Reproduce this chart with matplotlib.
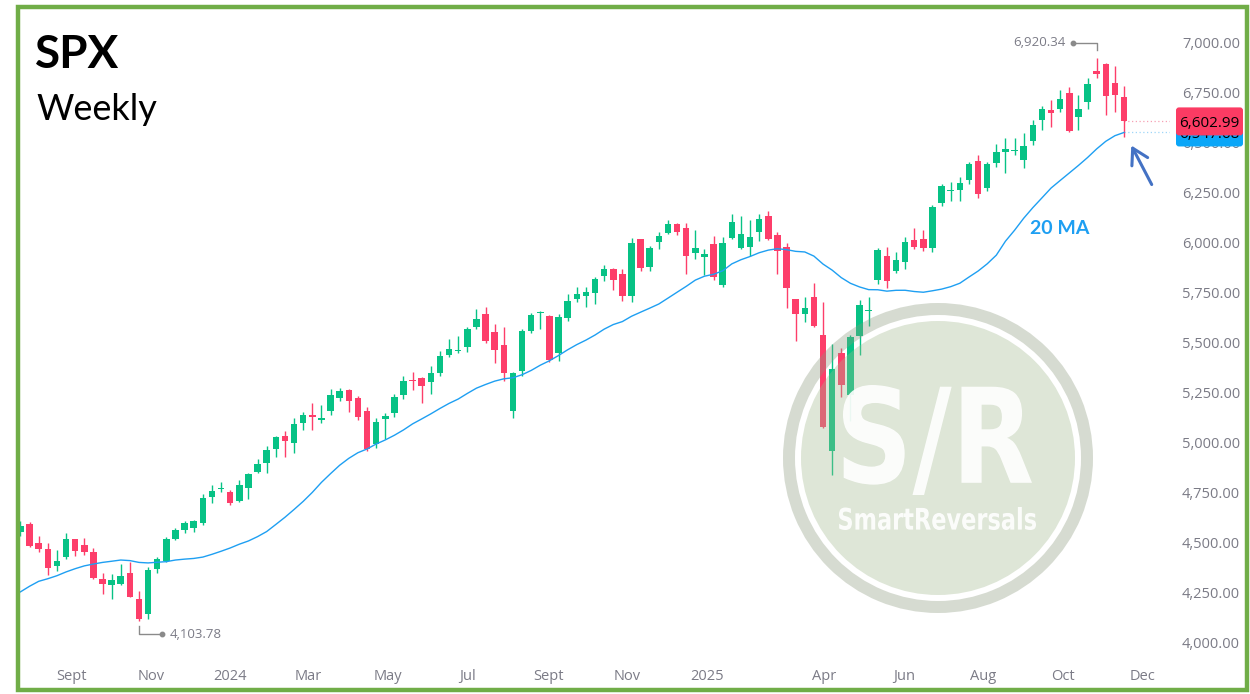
import matplotlib
matplotlib.use("Agg")
import matplotlib.pyplot as plt
import matplotlib.dates as mdates
import numpy as np
import pandas as pd
from matplotlib.patches import Circle, Wedge, Rectangle, FancyBboxPatch, PathPatch
from matplotlib.textpath import TextPath
from matplotlib.font_manager import FontProperties
from matplotlib.transforms import Affine2D

# ---------------- data ----------------
weeks = pd.date_range("2023-07-24", periods=122, freq="7D")

opens = [4550, 4590, 4497, 4463, 4381, 4425, 4515, 4483, 4452, 4315,
         4285, 4290, 4345, 4215, 4140, 4366, 4404, 4513, 4560, 4568,
         4593, 4725, 4763, 4748, 4705, 4772, 4852, 4897, 4963, 5030,
         4993, 5097, 5135, 5113, 5157, 5218, 5260, 5218, 5155, 4990,
         5115, 5143, 5235, 5312, 5320, 5302, 5343, 5435, 5455, 5473,
         5573, 5640, 5548, 5485, 5155, 5355, 5557, 5643, 5632, 5447,
         5622, 5715, 5730, 5743, 5832, 5865, 5840, 5730, 6015, 5873,
         5998, 6043, 6090, 6072, 5947, 5927, 5990, 5785, 6018, 5972,
         5973, 6052, 6130, 6035, 5977, 5713, 5640, 5727, 5535, 4957,
         5447, 5235, 5532, 5655, 5810, 5930, 5857, 5902, 6010, 6013,
         5972, 6197, 6257, 6260, 6310, 6405, 6272, 6393, 6452, 6457,
         6410, 6505, 6610, 6660, 6665, 6743, 6625, 6698, 6853, 6890,
         6797, 6723]

highs = [4607, 4600, 4530, 4497, 4460, 4545, 4516, 4522, 4472, 4343,
         4340, 4390, 4400, 4256, 4375, 4425, 4525, 4569, 4605, 4610,
         4738, 4785, 4798, 4760, 4810, 4847, 4913, 4982, 5032, 5055,
         5118, 5148, 5195, 5185, 5265, 5270, 5263, 5230, 5173, 5118,
         5143, 5240, 5332, 5348, 5325, 5382, 5455, 5513, 5530, 5577,
         5665, 5677, 5590, 5573, 5352, 5563, 5645, 5655, 5635, 5640,
         5740, 5773, 5773, 5825, 5885, 5870, 5865, 6018, 6017, 5978,
         6052, 6110, 6097, 6093, 6060, 5963, 6030, 6023, 6138, 6130,
         6110, 6138, 6155, 6052, 5997, 5716, 5723, 5793, 5702, 5488,
         5468, 5535, 5710, 5727, 5968, 5977, 5952, 6023, 6068, 6060,
         6187, 6290, 6302, 6327, 6398, 6435, 6398, 6490, 6520, 6518,
         6543, 6610, 6680, 6710, 6760, 6773, 6735, 6818, 6920.34, 6895,
         6880, 6780]

lows = [4528, 4474, 4450, 4335, 4356, 4413, 4430, 4436, 4316, 4238,
        4216, 4284, 4223, 4103.78, 4113, 4345, 4399, 4511, 4547, 4551,
        4583, 4697, 4752, 4685, 4702, 4716, 4847, 4847, 4923, 4923,
        4947, 5060, 5060, 5093, 5135, 5205, 5148, 5110, 4957, 4972,
        5013, 5127, 5215, 5260, 5197, 5238, 5332, 5423, 5447, 5450,
        5565, 5497, 5397, 5305, 5120, 5330, 5547, 5565, 5402, 5406,
        5607, 5698, 5677, 5690, 5807, 5762, 5707, 5702, 5857, 5853,
        5965, 6038, 6035, 5838, 5915, 5835, 5810, 5773, 6013, 5963,
        5930, 6005, 6010, 5840, 5668, 5507, 5602, 5577, 5069, 4835,
        5223, 5107, 5435, 5582, 5790, 5768, 5847, 5863, 5965, 5955,
        5952, 6180, 6207, 6207, 6288, 6218, 6253, 6373, 6347, 6435,
        6368, 6485, 6560, 6577, 6648, 6550, 6560, 6663, 6818, 6635,
        6652, 6527]

closes = [4582.23, 4478.03, 4464.05, 4369.71, 4405.71, 4515.77, 4457.49, 4450.32, 4320.06, 4288.05,
          4308.50, 4327.78, 4224.16, 4117.37, 4358.34, 4415.24, 4514.02, 4559.34, 4594.63, 4604.37,
          4719.19, 4754.63, 4769.83, 4697.24, 4783.83, 4839.81, 4890.97, 4958.61, 5026.61, 5005.57,
          5088.80, 5137.08, 5123.69, 5117.09, 5234.18, 5254.35, 5204.34, 5123.41, 4967.23, 5099.96,
          5127.79, 5222.68, 5303.27, 5304.72, 5277.51, 5346.99, 5431.60, 5464.62, 5460.48, 5567.19,
          5615.35, 5505.00, 5459.10, 5346.56, 5344.16, 5554.25, 5634.61, 5648.40, 5408.42, 5626.02,
          5702.55, 5738.17, 5751.07, 5815.03, 5864.67, 5808.12, 5728.80, 5995.54, 5870.62, 5969.34,
          6032.38, 6090.27, 6051.09, 5930.85, 5970.84, 5942.47, 5827.04, 5996.66, 6101.24, 6040.53,
          6025.99, 6114.63, 6013.13, 5954.50, 5770.20, 5638.94, 5667.56, 5580.94, 5074.08, 5363.36,
          5282.70, 5525.21, 5686.67, 5659.91, 5958.38, 5802.82, 5911.69, 6000.36, 5976.97, 5967.84,
          6173.07, 6279.35, 6259.75, 6296.79, 6388.64, 6238.01, 6389.45, 6449.80, 6466.91, 6460.26,
          6481.50, 6584.29, 6664.36, 6643.70, 6715.79, 6552.51, 6664.01, 6791.69, 6840.20, 6728.80,
          6734.11, 6602.99]

# weekly closes preceding the first visible week (needed for the 20-week average)
warmup_closes = [3916.64, 3970.99, 4109.31, 4105.02, 4137.64, 4133.52, 4169.48, 4136.25,
                 4124.08, 4191.98, 4205.45, 4282.37, 4298.86, 4409.59, 4348.33, 4450.38,
                 4398.95, 4505.42, 4536.34]
ma_period = 20

y_ticks = [4000, 4250, 4500, 4750, 5000, 5250, 5500, 5750, 6000, 6250, 6500, 6750, 7000]
x_tick_dates = ["2023-09-01", "2023-11-01", "2024-01-01", "2024-03-01", "2024-05-01",
                "2024-07-01", "2024-09-01", "2024-11-01", "2025-01-01", "2025-04-01",
                "2025-06-01", "2025-08-01", "2025-10-01", "2025-12-01"]
x_tick_labels = ["Sept", "Nov", "2024", "Mar", "May", "Jul", "Sept", "Nov", "2025",
                 "Apr", "Jun", "Aug", "Oct", "Dec"]

title = "SPX"
subtitle = "Weekly"
ma_text = "20 MA"
wm_big = "S/R"
wm_small = "SmartReversals"

# ---------------- style ----------------
GREEN = "#07C285"
RED = "#FD3E6A"
MA_COL = "#1E9FF2"
GREY = "#7B7B86"
RED_LBL = "#FB3B63"
BLUE_LBL = "#0AA6F8"
BORDER = "#70AD47"

plt.rcParams['font.family'] = ['Open Sans', 'DejaVu Sans']

W, H = 1250, 694
fig = plt.figure(figsize=(W / 100, H / 100), dpi=100)
fig.patch.set_facecolor("white")

# main axes: pixel box x 20..1170, y 8..660
ax = fig.add_axes([20 / W, (H - 660) / H, 1150 / W, 652 / H])
ax.set_facecolor("none")
for s in ax.spines.values():
    s.set_visible(False)

x = mdates.date2num(weeks)
o = np.array(opens, float)
h = np.array(highs, float)
l = np.array(lows, float)
c = np.array(closes, float)
up = c >= o
cols = np.where(up, GREEN, RED)

ref = mdates.date2num(pd.Timestamp("2023-10-23"))
ax.set_xlim(ref - 91.33, ref + 791.3)
ax.set_ylim(3910, 7170)

ax.vlines(x, l, h, colors=cols, lw=1.0, zorder=2)
mid = (o + c) / 2
bh = np.maximum(np.abs(c - o), 6)
ax.bar(x, bh, bottom=mid - bh / 2, width=5.0, color=cols, linewidth=0, zorder=3)

allc = pd.Series(warmup_closes + closes)
ma = allc.rolling(ma_period).mean().iloc[len(warmup_closes):].values
ax.plot(x, ma, color=MA_COL, lw=1.0, zorder=4)

ax.yaxis.tick_right()
ax.set_yticks(y_ticks)
ax.set_yticklabels([f"{v:,.2f}" for v in y_ticks])
ax.tick_params(axis='y', length=0, pad=8.6, labelsize=10.5, labelcolor=GREY)
ax.set_xticks(mdates.date2num(pd.to_datetime(x_tick_dates)))
ax.set_xticklabels(x_tick_labels)
ax.tick_params(axis='x', length=0, pad=6.5, labelsize=10.5, labelcolor=GREY)

# last price / MA dotted lines
xr = ax.get_xlim()[1]
ax.plot([x[-1], xr], [c[-1], c[-1]], ls=(0, (1, 2)), color="#F7A0B4", lw=0.9, zorder=1)
ax.plot([x[-1], xr], [ma[-1], ma[-1]], ls=(0, (1, 2)), color="#9FD6F8", lw=0.9, zorder=1)

ax.text(mdates.date2num(pd.Timestamp("2025-09-29")), 6070, ma_text, color=MA_COL,
        fontsize=14, fontweight='bold', family=['Lato', 'DejaVu Sans'],
        ha='center', va='center', zorder=5)

# ---------------- overlay in pixel coordinates ----------------
ov = fig.add_axes([0, 0, 1, 1], zorder=10)
ov.set_xlim(0, W)
ov.set_ylim(H, 0)
ov.axis('off')
ov.patch.set_alpha(0)


def to_px(xd, yd):
    disp = ax.transData.transform((xd, yd))
    return ov.transData.inverted().transform(disp)


def fit_text(s, x0, x1, y0, y1, alpha=0.9):
    fp = FontProperties(family='DejaVu Sans', weight='bold')
    tp = TextPath((0, 0), s, size=100, prop=fp)
    ext = tp.get_extents()
    sx = (x1 - x0) / ext.width
    sy = (y1 - y0) / ext.height
    tr = Affine2D().translate(-ext.x0, -ext.y0).scale(sx, -sy).translate(x0, y1)
    ov.add_patch(PathPatch(tr.transform_path(tp), fc='white', ec='none', alpha=alpha))


# price labels on the scale (MA label first, last-price label on top)
z = 20
for val, fc, top, bot in [(ma[-1], BLUE_LBL, 11, 14), (c[-1], RED_LBL, 14, 14)]:
    _, py = to_px(x[-1], val)
    r = 3
    ov.add_patch(FancyBboxPatch((1176 + r, py - top + r), 67 - 2 * r, top + bot - 2 * r,
                                boxstyle=f'round,pad={r}', fc=fc, ec='none', zorder=z))
    ov.text(1209.5, py + 5.5, f"{val:,.2f}", ha='center', va='baseline',
            fontsize=11, color='black', zorder=z + 1)
    z += 2

# watermark
cx, cy = 938, 458
ov.add_patch(Wedge((cx, cy), 155, 0, 360, width=12, fc="#8A987C", ec='none', alpha=0.35))
ov.add_patch(Circle((cx, cy), 137, fc="#A1B88D", ec='none', alpha=0.35))
fit_text(wm_big, 843, 1032, 385, 495)
fit_text(wm_small, 839, 1036, 507, 530)

# title
ov.text(35, 68, title, fontsize=33, fontweight='bold', family=['Lato', 'DejaVu Sans'],
        color='black', va='baseline', ha='left')
ov.text(36, 120, subtitle, fontsize=26, family=['Lato', 'DejaVu Sans'],
        color='black', va='baseline', ha='left')

# high / low annotations
ih = int(np.argmax(h))
hx, hy = to_px(x[ih], h[ih])
ov.plot([hx, hx, hx - 24], [hy - 8, hy - 15, hy - 15], color="#8A8A8A", lw=1.0)
ov.plot([hx - 24], [hy - 15], 'o', color="#8A8A8A", ms=3.2)
ov.text(hx - 31, hy - 15, f"{h[ih]:,.2f}", ha='right', va='center', fontsize=9.5, color=GREY)

il = int(np.argmin(l))
lx, ly = to_px(x[il], l[il])
ov.plot([lx, lx, lx + 23], [ly + 5, ly + 13, ly + 13], color="#8A8A8A", lw=1.0)
ov.plot([lx + 23], [ly + 13], 'o', color="#8A8A8A", ms=3.2)
ov.text(lx + 31, ly + 13, f"{l[il]:,.2f}", ha='left', va='center', fontsize=9.5, color=GREY)

# arrow pointing to MA touch
ov.annotate("", xy=(1130, 143), xytext=(1153, 187),
            arrowprops=dict(arrowstyle="->,head_length=0.55,head_width=0.32",
                            color="#4472C4", lw=2.2, mutation_scale=20))

# border
ov.add_patch(Rectangle((18, 7), 1229, 683, fill=False, ec=BORDER, lw=3.2, zorder=30))

fig.savefig("out.png", dpi=100)
